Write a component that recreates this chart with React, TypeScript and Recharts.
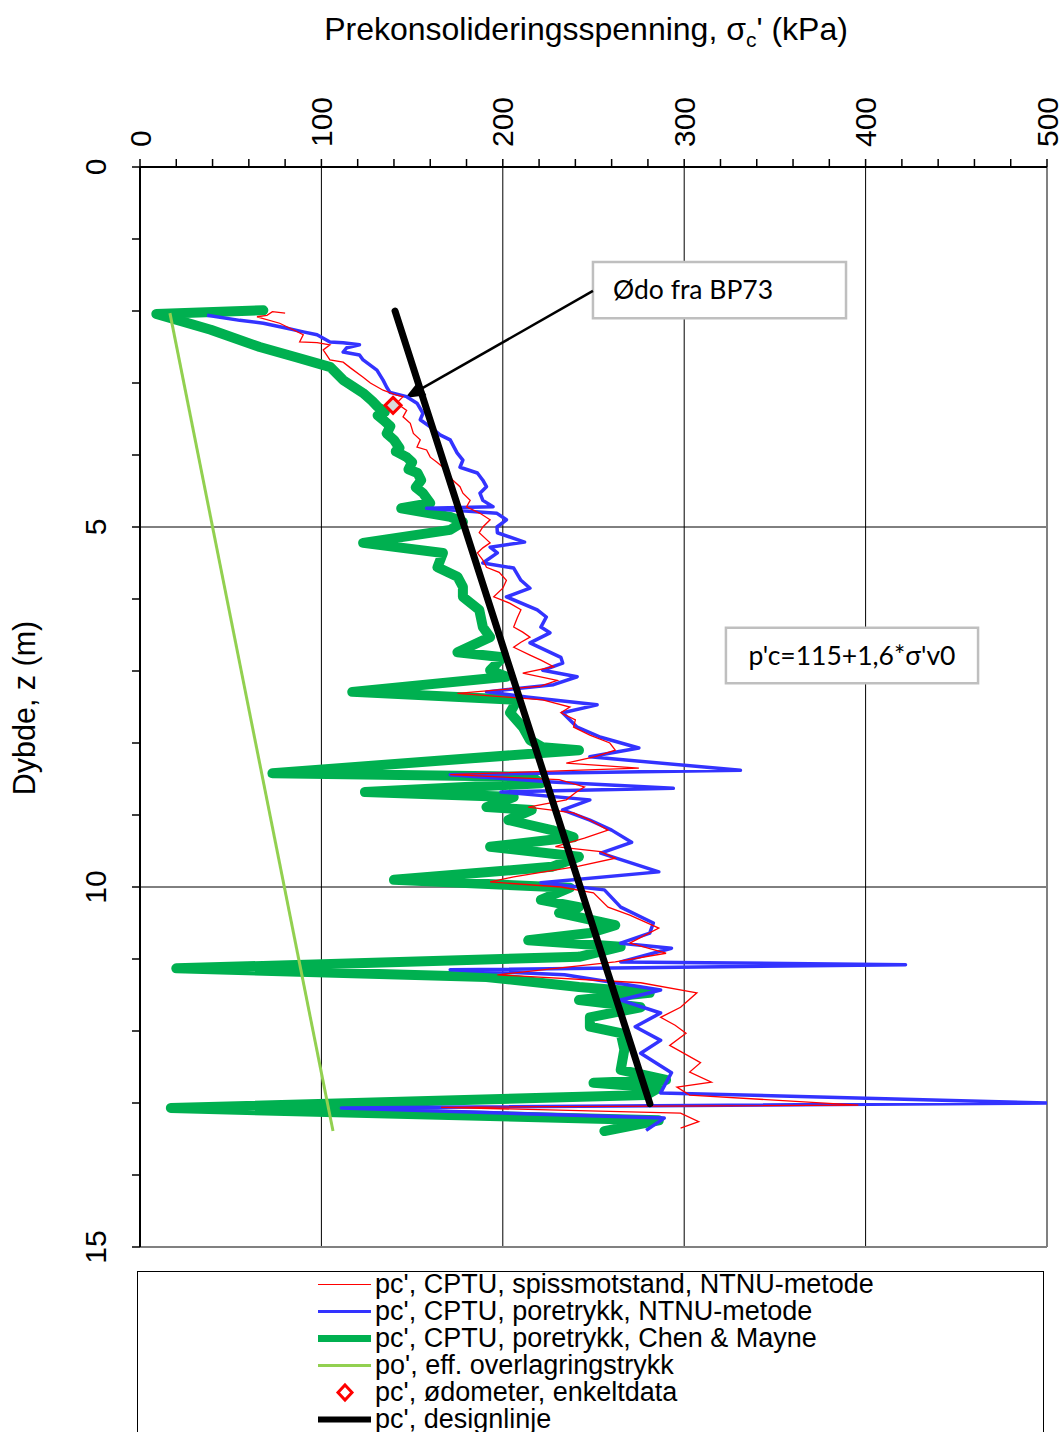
import React from 'react';
import {
  ComposedChart, Line, Scatter, XAxis, YAxis, ReferenceLine, ReferenceArea, CartesianGrid,
} from 'recharts';

// [kPa, depth m]
const redCurve: [number, number][] = [
  [80, 2.03], [73, 2.01], [70, 2.06], [64.5, 2.08], [77, 2.17], [90, 2.33], [88, 2.43], [97.6, 2.44],
  [104.7, 2.47], [101, 2.54], [104.7, 2.68], [112, 2.71], [116, 2.79], [123, 2.92], [127, 3.0], [134, 3.1],
  [141.5, 3.17], [145, 3.19], [141.5, 3.28], [147, 3.38], [145, 3.47], [149, 3.56], [150.7, 3.7], [154.5, 3.79],
  [152.7, 3.89], [158, 3.93], [160, 4.03], [163.7, 4.1], [167, 4.17], [169, 4.25], [172.5, 4.35], [176.4, 4.44],
  [178, 4.53], [182, 4.63], [180, 4.72], [187.4, 4.81], [193, 4.9], [189, 5.0],
  [187, 5.08], [193, 5.22], [189, 5.29], [186, 5.36], [189, 5.46], [191, 5.56], [198, 5.63], [202, 5.74],
  [200, 5.85], [195, 5.97], [204, 6.06], [210, 6.15], [208, 6.26], [206, 6.39], [211, 6.46], [215, 6.53],
  [210, 6.6], [206, 6.67], [215, 6.78], [221, 6.85], [228, 6.94], [211, 7.03], [230, 7.13], [221, 7.21],
  [175, 7.31], [222, 7.4], [237, 7.5], [232, 7.58], [240, 7.68], [239, 7.78], [248, 7.89], [259, 8.0],
  [262, 8.1], [251, 8.19], [235, 8.28], [275, 8.35], [171, 8.44], [231, 8.51], [245, 8.61], [240, 8.69],
  [235, 8.79], [214, 8.89], [239, 8.97], [248, 9.07], [258, 9.21], [245, 9.32], [229, 9.44], [254, 9.51],
  [262, 9.6], [242, 9.71], [206, 9.86], [193, 9.93], [232, 10.0], [250, 10.08], [258, 10.28],
  [270, 10.39], [286, 10.57], [270, 10.78], [290, 10.92], [262, 11.04], [197, 11.22], [276, 11.33],
  [307, 11.47], [298, 11.67], [287, 11.81], [295, 11.92], [301, 12.03], [292, 12.2], [309, 12.44],
  [303, 12.57], [315, 12.71], [296, 12.78], [303, 12.89], [396, 13.03], [166, 13.06], [298, 13.14],
  [308, 13.26], [298, 13.35],
];

const blueCurve: [number, number][] = [
  [37, 2.06], [55, 2.13], [68, 2.17], [81, 2.24], [90, 2.29], [97.6, 2.33], [104.7, 2.43], [112, 2.44],
  [121, 2.47], [114, 2.51], [112, 2.57], [121, 2.61], [123, 2.68], [130.6, 2.82], [134, 2.96], [136, 3.06],
  [137.8, 3.13], [147, 3.19], [152.7, 3.28], [156, 3.42], [154.5, 3.51], [160, 3.61], [165.4, 3.72],
  [171, 3.79], [174.8, 3.97], [178, 4.07], [176.4, 4.17], [186, 4.25], [189, 4.35], [191, 4.44],
  [187.4, 4.53], [189, 4.63], [194.6, 4.72], [158, 4.74], [196.8, 4.81], [202, 4.9], [196.8, 5.0],
  [197, 5.08], [212, 5.21], [193, 5.28], [197, 5.36], [189, 5.5], [206, 5.57], [210, 5.74], [215, 5.85],
  [202, 5.97], [219, 6.15], [224, 6.25], [221, 6.39], [226, 6.47], [215, 6.61], [232, 6.81], [233, 6.89],
  [222, 6.99], [241, 7.08], [228, 7.19], [191, 7.29], [213, 7.36], [252, 7.47], [233, 7.58], [241, 7.78],
  [254, 7.92], [275, 8.07], [248, 8.19], [331, 8.38], [171, 8.44], [227, 8.54], [294, 8.63], [199, 8.68],
  [248, 8.79], [233, 8.93], [248, 9.07], [260, 9.21], [271, 9.38], [254, 9.53], [286, 9.79], [221, 9.94],
  [256, 10.04], [265, 10.28], [283, 10.5], [281, 10.64], [265, 10.78], [293, 10.85], [265, 11.04],
  [422, 11.08], [171, 11.15], [234, 11.22], [287, 11.43], [265, 11.57], [287, 11.75], [273, 11.94],
  [287, 12.13], [276, 12.31], [293, 12.58], [287, 12.86], [500, 13.0], [111, 13.07], [289, 13.21], [279, 13.38],
];

const greenCurve: [number, number][] = [
  [68, 1.99], [9, 2.04], [39, 2.26], [66, 2.5], [87, 2.65], [105, 2.78], [112, 2.96], [123, 3.14],
  [128, 3.25], [131, 3.33], [135, 3.4], [131, 3.45], [134, 3.51], [138, 3.6], [136, 3.7], [140, 3.79],
  [143, 3.9], [141, 3.95], [147, 4.03], [150, 4.1], [148, 4.2], [153, 4.25], [155, 4.35], [152, 4.45],
  [156, 4.53], [158, 4.6], [160, 4.67], [144, 4.74],
  [171, 4.86], [178, 4.93], [171, 5.04], [123, 5.22], [167, 5.36], [164, 5.56], [175, 5.69], [178, 5.83],
  [178, 5.97], [187, 6.15], [189, 6.39], [193, 6.53], [175, 6.74], [200, 6.81], [193, 6.99], [202, 7.08],
  [117, 7.29], [208, 7.4], [204, 7.58], [211, 7.78], [215, 7.96], [222, 8.06], [242, 8.1], [73, 8.42],
  [216, 8.47], [221, 8.56], [124, 8.68], [206, 8.75], [191, 8.89], [216, 8.93], [203, 9.07], [227, 9.21],
  [239, 9.31], [193, 9.44], [242, 9.58], [227, 9.72], [140, 9.9], [237, 10.01], [221, 10.18], [242, 10.28],
  [231, 10.36], [262, 10.53], [248, 10.64], [214, 10.74], [265, 10.83], [242, 10.97], [20, 11.13],
  [191, 11.25], [242, 11.39], [281, 11.47], [242, 11.57], [276, 11.67], [248, 11.81], [248, 11.94],
  [265, 12.03], [267, 12.26], [265, 12.54], [290, 12.68], [250, 12.72], [286, 12.79], [279, 12.89],
  [17, 13.07], [286, 13.24], [256, 13.39],
];

const overburdenLine: [number, number][] = [[16.5, 2.03], [106.4, 13.39]];
const designLine: [number, number][] = [[140.6, 2.0], [281.1, 13.01]];
const oedometerPoints: [number, number][] = [[139.5, 3.31]];

const xTicks = Array.from({ length: 26 }, (_, i) => i * 20);
const yTicks = Array.from({ length: 16 }, (_, i) => i);
const gridX = [100, 200, 300, 400];
const gridY = [5, 10];

const toData = (arr: [number, number][]) => arr.map(([p, z]) => ({ p, z }));

const legendItems = [
  { label: "pc', CPTU, spissmotstand, NTNU-metode", color: '#ff0000', w: 1.2, type: 'line' },
  { label: "pc', CPTU, poretrykk, NTNU-metode", color: '#3333ff', w: 3, type: 'line' },
  { label: "pc', CPTU, poretrykk, Chen & Mayne", color: '#00b050', w: 7, type: 'line' },
  { label: "po', eff. overlagringstrykk", color: '#92d050', w: 3, type: 'line' },
  { label: "pc', ødometer, enkeltdata", color: '#ff0000', w: 3, type: 'diamond' },
  { label: "pc', designlinje", color: '#000000', w: 6, type: 'line' },
];

const FONT = '"Liberation Sans", Arial, sans-serif';

const XTick = (props: any) => {
  const { x, payload } = props;
  if (payload.value % 100 !== 0) return null;
  const tx = x + 10.5;
  const ty = 147;
  return (
    <text x={tx} y={ty} transform={`rotate(-90, ${tx}, ${ty})`} textAnchor="start" fontSize={30} fontFamily={FONT} fill="#000">
      {payload.value}
    </text>
  );
};

const YTick = (props: any) => {
  const { y, payload } = props;
  if (payload.value % 5 !== 0) return null;
  const tx = 106;
  return (
    <text x={tx} y={y} transform={`rotate(-90, ${tx}, ${y})`} textAnchor="middle" fontSize={30} fontFamily={FONT} fill="#000">
      {payload.value}
    </text>
  );
};

const Diamond = (props: any) => {
  const { cx, cy } = props;
  const r = 8;
  return (
    <polygon points={`${cx},${cy - r} ${cx + r},${cy} ${cx},${cy + r} ${cx - r},${cy}`} fill="#d9d9d9" stroke="#ff0000" strokeWidth={3} />
  );
};

const Arrow = (props: any) => {
  const { x1, y1, x2, y2 } = props;
  const dx = x2 - x1;
  const dy = y2 - y1;
  const len = Math.sqrt(dx * dx + dy * dy);
  const ux = dx / len;
  const uy = dy / len;
  const hl = 20;
  const hw = 8;
  const bx = x2 - ux * hl;
  const by = y2 - uy * hl;
  const px = -uy;
  const py = ux;
  return (
    <g>
      <line x1={x1} y1={y1} x2={bx} y2={by} stroke="#000" strokeWidth={2.5} />
      <polygon points={`${x2},${y2} ${bx + px * hw},${by + py * hw} ${bx - px * hw},${by - py * hw}`} fill="#000" />
    </g>
  );
};

const boxLabel = (text: string, align: 'left' | 'center') => (props: any) => {
  const vb = props.viewBox || {};
  const x = align === 'left' ? vb.x + 20 : vb.x + vb.width / 2;
  return (
    <text x={x} y={vb.y + vb.height / 2 + 9} textAnchor={align === 'left' ? 'start' : 'middle'} fontSize={26.5} fontFamily="Lato, 'Open Sans', sans-serif" fill="#000">
      {text}
    </text>
  );
};

const TitleLabel = () => (
  <text x={586} y={40} textAnchor="middle" fontSize={32} fontFamily={FONT} fill="#000">
    Prekonsolideringsspenning, σ<tspan dy={7} fontSize={21}>c</tspan><tspan dy={-7}>' (kPa)</tspan>
  </text>
);

const YLabel = () => (
  <text x={35} y={708} transform="rotate(-90, 35, 708)" textAnchor="middle" fontSize={30.5} fontFamily={FONT} fill="#000">
    Dybde, z (m)
  </text>
);

export default function App() {
  return (
    <div style={{ position: 'absolute', left: 0, top: 0, width: 1064, height: 1432, overflow: 'hidden', background: '#fff' }}>
      <ComposedChart width={1064} height={1432} margin={{ top: 127, right: 17, bottom: 185, left: 100 }}>
        <CartesianGrid xAxisId="x" yAxisId="y" verticalValues={gridX} horizontalValues={gridY} stroke="#000" strokeWidth={1} />
        <XAxis
          xAxisId="x"
          type="number"
          dataKey="p"
          orientation="top"
          domain={[0, 500]}
          ticks={xTicks}
          interval={0}
          allowDataOverflow
          height={40}
          tick={<XTick />}
          tickSize={8}
          tickLine={{ stroke: '#000', strokeWidth: 1.5 }}
          axisLine={{ stroke: '#000', strokeWidth: 2 }}
          label={{ content: () => <TitleLabel /> }}
        />
        <YAxis
          yAxisId="y"
          type="number"
          dataKey="z"
          domain={[0, 15]}
          reversed
          ticks={yTicks}
          interval={0}
          allowDataOverflow
          width={40}
          tick={<YTick />}
          tickSize={8}
          tickLine={{ stroke: '#000', strokeWidth: 1.5 }}
          axisLine={{ stroke: '#000', strokeWidth: 2 }}
          label={{ content: () => <YLabel /> }}
        />
        <ReferenceLine xAxisId="x" yAxisId="y" x={500} stroke="#808080" strokeWidth={2} />
        <ReferenceLine xAxisId="x" yAxisId="y" y={15} stroke="#808080" strokeWidth={2} />
        <ReferenceLine
          xAxisId="x"
          yAxisId="y"
          segment={[{ x: 249.7, y: 1.72 }, { x: 146.1, y: 3.21 }]}
          shape={(p: any) => <Arrow {...p} />}
          ifOverflow="visible"
        />
        <ReferenceArea xAxisId="x" yAxisId="y" x1={249.7} x2={389.2} y1={1.32} y2={2.1} fill="#fff" fillOpacity={1} stroke="#bfbfbf" strokeWidth={2.5} label={{ content: boxLabel('Ødo fra BP73', 'left') }} />
        <ReferenceArea xAxisId="x" yAxisId="y" x1={323} x2={462} y1={6.4} y2={7.17} fill="#fff" fillOpacity={1} stroke="#bfbfbf" strokeWidth={2.5} label={{ content: boxLabel("p'c=115+1,6*σ'v0", 'center') }} />

        <Line xAxisId="x" yAxisId="y" data={toData(greenCurve)} dataKey="z" stroke="#00b050" strokeWidth={10} strokeLinejoin="round" strokeLinecap="round" dot={false} isAnimationActive={false} />
        <Line xAxisId="x" yAxisId="y" data={toData(blueCurve)} dataKey="z" stroke="#3333ff" strokeWidth={3.5} strokeLinejoin="round" dot={false} isAnimationActive={false} />
        <Line xAxisId="x" yAxisId="y" data={toData(redCurve)} dataKey="z" stroke="#ff0000" strokeWidth={1.3} dot={false} isAnimationActive={false} />
        <Line xAxisId="x" yAxisId="y" data={toData(overburdenLine)} dataKey="z" stroke="#92d050" strokeWidth={3} dot={false} isAnimationActive={false} />
        <Line xAxisId="x" yAxisId="y" data={toData(designLine)} dataKey="z" stroke="#000" strokeWidth={7} strokeLinecap="round" dot={false} isAnimationActive={false} />
        <Scatter xAxisId="x" yAxisId="y" data={toData(oedometerPoints)} dataKey="z" shape={<Diamond />} isAnimationActive={false} />
      </ComposedChart>

      <div style={{ position: 'absolute', left: 137, top: 1271, width: 907, height: 175, border: '1px solid #000', boxSizing: 'border-box', background: '#fff' }}>
        {legendItems.map((it, i) => (
          <div key={i} style={{ position: 'absolute', left: 0, top: i * 27 - 1, height: 27, width: 900 }}>
            <svg style={{ position: 'absolute', left: 178, top: 0 }} width={58} height={27}>
              {it.type === 'line' ? (
                <line x1={2} y1={13.5} x2={55} y2={13.5} stroke={it.color} strokeWidth={it.w} />
              ) : (
                <polygon points="29,6 36,13.5 29,21 22,13.5" fill="#fff" stroke={it.color} strokeWidth={3} />
              )}
            </svg>
            <span style={{ position: 'absolute', left: 237, top: 0, lineHeight: '27px', fontSize: 27, fontFamily: FONT, color: '#000', whiteSpace: 'nowrap' }}>
              {it.label}
            </span>
          </div>
        ))}
      </div>
    </div>
  );
}
